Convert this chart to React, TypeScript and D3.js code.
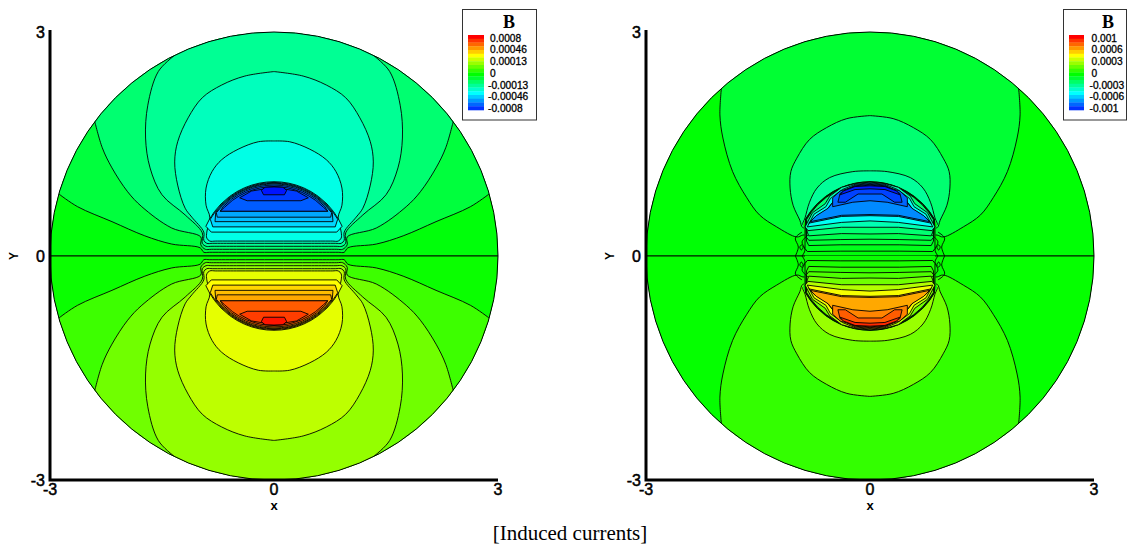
import React from "react";
import * as d3 from "d3";

type P = [number, number];
type C = { pts: P[]; t: number; tUp?: number; open?: boolean; ring?: number; noStroke?: boolean; noFill?: boolean; smooth?: boolean };

// half outline of the conductor (x <= 0, y >= 0), side to top
const diskOutline: P[] = [[-1,0],[-.995,.1],[-.98,.2],[-.954,.3],[-.917,.4],[-.866,.5],[-.8,.6],[-.714,.7],[-.6,.8],[-.5,.866],[-.4,.917],[-.3,.954],[-.2,.98],[-.1,.995],[0,1]];

// LEFT PANEL half contours (x <= 0); t = |B| on a -1..1 colour axis
const leftZero: P[] = [[-3,0],[0,0]];
const leftL1: P[] = [[-2.88,.83],[-2.63,.66],[-2.17,.46],[-1.73,.27],[-1.37,.16],[-.99,.11],[-.94,.05],[-.86,.05],[-.5,.05],[0,.05]];
const leftL2: P[] = [[-2.4,1.8],[-2.3,1.45],[-2.17,1.18],[-1.96,.86],[-1.77,.66],[-1.37,.375],[-.98,.255],[-.98,.15],[-.92,.09],[-.84,.09],[-.5,.09],[0,.09]];
const leftL3: P[] = [[-1.34,2.68],[-1.55,2.47],[-1.69,2.02],[-1.72,1.58],[-1.66,1.18],[-1.5,.82],[-1.19,.55],[-.96,.31],[-.96,.17],[-.91,.13],[-.83,.13],[-.5,.13],[0,.13]];
const leftL4: P[] = [[0,2.47],[-.39,2.41],[-.7,2.29],[-.96,2.12],[-1.15,1.85],[-1.29,1.53],[-1.33,1.26],[-1.29,.95],[-1.19,.64],[-1.1,.52],[-.94,.32],[-.94,.21],[-.9,.17],[-.82,.17],[-.5,.17],[0,.17]];
const leftL5: P[] = [[0,1.54],[-.21,1.53],[-.48,1.43],[-.7,1.29],[-.83,1.13],[-.91,.91],[-.91,.68],[-.86,.52],[-.9,.32],[-.9,.24],[-.86,.2],[-.78,.2],[-.5,.2],[0,.2]];
const leftH6: P[] = [[0,.32],[-.84,.32]];
const leftH7: P[] = [[0,.39],[-.82,.39]];
const leftH8: P[] = [[0,.46],[-.79,.46]];
const leftH9: P[] = [[0,.52],[-.76,.52]];
const leftH10: P[] = [[0,.6],[-.72,.6]];
const leftPolyA: P[] = [[0,.74],[-.36,.74],[-.46,.78],[-.3,.87],[0,.92]];
const leftPolyB: P[] = [[0,.82],[-.14,.82],[-.17,.88],[-.12,.92],[0,.925]];

const leftContours: C[] = [
  { pts: leftZero, t: .02, open: true },
  { pts: leftL1, t: .12, open: true, smooth: true },
  { pts: leftL2, t: .22, open: true, smooth: true },
  { pts: leftL3, t: .29, open: true, smooth: true },
  { pts: leftL4, t: .37, smooth: true },
  { pts: leftL5, t: .45, smooth: true },
  { pts: leftH6, t: .5, ring: .995 },
  { pts: leftH7, t: .58, ring: .985 },
  { pts: leftH8, t: .63, ring: .975 },
  { pts: leftH9, t: .67, ring: .965 },
  { pts: leftH10, t: .82, ring: .95 },
  { pts: leftH10, t: .82, ring: .93 },
  { pts: leftPolyA, t: .88 },
  { pts: leftPolyB, t: .96 },
];

// RIGHT PANEL half contours
const rightZero: P[] = [[-3,0],[0,0]];
const rightR1: P[] = [[-1.99,2.25],[-2.01,1.89],[-1.97,1.58],[-1.84,1.13],[-1.65,.78],[-1.48,.55],[-1.25,.39],[-.98,.255],[-.9,.28],[-.8,.28],[-.5,.28],[0,.28]];
const rightR2: P[] = [[0,1.88],[-.31,1.84],[-.58,1.72],[-.81,1.56],[-.98,1.31],[-1.06,1.13],[-1.07,.91],[-1.03,.68],[-.94,.48],[-.9,.38],[-.8,.38],[-.5,.38],[0,.38]];
const rightR3: P[] = [[0,1.14],[-.23,1.13],[-.54,1.05],[-.71,.91],[-.81,.72],[-.87,.51],[-.9,.42],[-.8,.42],[-.5,.42],[0,.42]];
const rightH0: P[] = [[0,0],[-.87,0],[-.88,.36],[-.9,.42],[-.866,.5],[-.8,.6],[-.714,.7],[-.6,.8],[-.5,.866],[-.4,.917],[-.3,.954],[-.2,.98],[-.1,.995],[0,1]];
const rightH1: P[] = [[0,.065],[-.4,.065],[-.84,.06],[-.87,.1],[-.87,.38]];
const rightH2: P[] = [[0,.15],[-.4,.15],[-.82,.14],[-.85,.2],[-.86,.38]];
const rightH3: P[] = [[0,.225],[-.4,.22],[-.82,.21],[-.85,.25],[-.85,.38]];
const rightH4: P[] = [[0,.295],[-.38,.3],[-.82,.27],[-.84,.32],[-.85,.39]];
const rightH5: P[] = [[0,.385],[-.38,.385],[-.83,.34],[-.87,.39],[-.77,.58],[-.6,.7],[-.54,.8],[-.38,.92],[-.2,.97],[0,.99]];
const rightH6: P[] = [[0,.47],[-.38,.45],[-.84,.39],[-.75,.56],[-.59,.66],[-.53,.77],[-.37,.89],[-.2,.96],[0,.98]];
const rightH7: P[] = [[0,.54],[-.38,.53],[-.82,.44],[-.74,.52],[-.58,.62],[-.5,.72],[-.47,.8],[-.36,.87],[-.2,.95],[0,.97]];
const rightH7b: P[] = [[0,.555],[-.38,.545],[-.8,.46],[-.72,.54],[-.56,.64],[-.48,.74],[-.45,.81],[-.35,.86],[-.2,.94],[0,.96]];
const rightPolyA: P[] = [[0,.74],[-.23,.72],[-.5,.66],[-.5,.78],[-.4,.87],[-.2,.93],[0,.95]];
const rightPolyB: P[] = [[0,.83],[-.16,.83],[-.33,.72],[-.43,.72],[-.4,.84],[-.2,.91],[0,.93]];
const rightPolyC: P[] = [[0,.9],[-.2,.89],[-.4,.82],[-.36,.87],[-.2,.93],[0,.94]];
const rightWiggle1: P[] = [[-1,0],[-.96,.12],[-1,.24],[-.91,.32]];
const rightWiggle2: P[] = [[-.91,0],[-.87,.08],[-.91,.19],[-.83,.28]];
const rightDot: P[] = [[-.92,.15],[-.895,.12],[-.92,.08],[-.94,.12],[-.92,.15]];

const rightContours: C[] = [
  { pts: rightZero, t: .01, open: true },
  { pts: rightR1, t: .1, open: true, smooth: true },
  { pts: rightR2, t: .22, smooth: true },
  { pts: rightR3, t: .3, smooth: true },
  { pts: rightH0, t: .02, noStroke: true },
  { pts: rightH1, t: .05, ring: .995 },
  { pts: rightH2, t: .1, ring: .99 },
  { pts: rightH3, t: .15, ring: .985 },
  { pts: rightH4, t: .22, ring: .98 },
  { pts: rightH5, t: .35 },
  { pts: rightH6, t: .48 },
  { pts: rightH7, t: .67, tUp: .73 },
  { pts: rightH7b, t: .67, tUp: .73 },
  { pts: rightPolyA, t: .74, tUp: .8 },
  { pts: rightPolyB, t: .82, tUp: .87 },
  { pts: rightPolyC, t: .92, tUp: .95 },
  { pts: rightWiggle1, t: 0, noFill: true, smooth: true },
  { pts: rightWiggle2, t: 0, noFill: true, smooth: true },
  { pts: rightDot, t: 0, noFill: true, smooth: true },
];

const leftLegendTicks = ["0.0008","0.00046","0.00013","0","-0.00013","-0.00046","-0.0008"];
const rightLegendTicks = ["0.001","0.0006","0.0003","0","-0.0003","-0.0006","-0.001"];
const legendBands = [1,.9,.8,.7,.6,.5,.4,.3,.2,.1,0,-.1,-.2,-.3,-.4,-.5,-.6,-.7,-.8,-.9];
const axisTicks = [-3,0,3];
const caption = "[Induced currents]";

const colour = d3.scaleLinear<string>()
  .domain([-1,-.5,0,.5,1])
  .range(["#0000ff","#00ffff","#00ff00","#ffff00","#ff0000"]);

const SANS = "'Liberation Sans', Arial, sans-serif";
const SERIF = "'Liberation Serif', 'Times New Roman', serif";

function halfPoints(c: C): P[] {
  if (!c.ring) return c.pts;
  const last = c.pts[c.pts.length - 1];
  const s = c.ring;
  const cap = diskOutline.map(([a, b]) => [a * s, b * s] as P).filter(p => p[1] > last[1] + .03);
  return [...c.pts, ...cap];
}

function Panel({ left, id, contours, legendX, legendW, ticks, barX, barW, labelX, bX }:
  { left: number; id: string; contours: C[]; legendX: number; legendW: number; ticks: string[]; barX: number; barW: number; labelX: number; bX: number }) {
  const x = d3.scaleLinear().domain([-3, 3]).range([left, left + 448]);
  const y = d3.scaleLinear().domain([-3, 3]).range([480, 32]);
  const straight = d3.line<P>().x(p => x(p[0])).y(p => y(p[1]));
  const curved = d3.line<P>().x(p => x(p[0])).y(p => y(p[1])).curve(d3.curveCatmullRom.alpha(.5));

  const paths = (sign: 1 | -1) => contours.map((c, i) => {
    const line = c.smooth ? curved : straight;
    const half = halfPoints(c).map(([a, b]) => [a, b * sign] as P);
    const mirror = [...half].reverse().slice(1).map(([a, b]) => [-a, b] as P);
    const whole = [...half, ...mirror];
    const d = line(whole) || "";
    if (c.noFill) {
      return (
        <g key={`${sign}-${i}`}>
          <path d={line(half) || ""} fill="none" stroke="#000" strokeWidth={.9} />
          <path d={line(half.map(([a, b]) => [-a, b] as P)) || ""} fill="none" stroke="#000" strokeWidth={.9} />
        </g>
      );
    }
    let fillD = d + "Z";
    if (c.open) {
      const h = half[0][1];
      const cap = straight([[0, 3.7 * sign], [-3.7, 3.7 * sign], [-3.7, h]]) || "";
      const end = (straight([[0, 0], [3.7, h], [3.7, 3.7 * sign]]) || "").replace(/^M[^L]*L/, "L");
      fillD = cap + d.replace(/^M/, "L") + end + "Z";
    }
    const value = sign === 1 ? -(c.tUp ?? c.t) : c.t;
    return (
      <g key={`${sign}-${i}`}>
        <path d={fillD} fill={colour(value)} stroke="none" />
        {!c.noStroke && <path d={d} fill="none" stroke="#000" strokeWidth={.9} />}
      </g>
    );
  });

  const legendY = d3.scaleLinear().domain([0, legendBands.length]).range([35, 110]);
  const tickY = d3.scaleLinear().domain([0, ticks.length - 1]).range([41.5, 112]);
  const tickStyle = { fontFamily: SANS, fontSize: 16, fill: "#000", stroke: "#000", strokeWidth: .5 };

  return (
    <g>
      <defs>
        <clipPath id={id}><circle cx={x(0)} cy={y(0)} r={224} /></clipPath>
      </defs>
      <g clipPath={`url(#${id})`}>
        <rect x={left} y={32} width={448} height={448} fill={colour(0)} />
        {paths(1)}
        {paths(-1)}
      </g>
      <circle cx={x(0)} cy={y(0)} r={224} fill="none" stroke="#000" strokeWidth={1} />
      <path d={`M${x(-3)},${y(3) - 2}V${y(-3)}H${x(3)}`} fill="none" stroke="#000" strokeWidth={3} />
      {axisTicks.map(v => (
        <text key={`x${v}`} x={x(v)} y={495} textAnchor="middle" style={tickStyle}>{v}</text>
      ))}
      {axisTicks.map(v => (
        <text key={`y${v}`} x={x(-3) - 5} y={y(v) + 6} textAnchor="end" style={tickStyle}>{v}</text>
      ))}
      <text x={x(0)} y={510} textAnchor="middle" style={{ fontFamily: SANS, fontSize: 13, fontWeight: 700 }}>x</text>
      <text transform={`translate(${x(-3) - 32},${y(0)}) rotate(-90)`} y={0} textAnchor="middle" style={{ fontFamily: SANS, fontSize: 12, fontWeight: 700 }}>Y</text>

      <rect x={legendX} y={9.5} width={legendW} height={110.5} fill="#fff" stroke="#333" strokeWidth={1} />
      <text x={bX} y={28} textAnchor="middle" style={{ fontFamily: SERIF, fontSize: 18, fontWeight: 700 }}>B</text>
      {legendBands.map((t, i) => (
        <rect key={i} x={barX} y={legendY(i)} width={barW} height={legendY(i + 1) - legendY(i) + .3} fill={colour(t)} />
      ))}
      {ticks.map((t, i) => (
        <text key={t} x={t.startsWith("-") ? labelX - 2 : labelX} y={tickY(i)}
          style={{ fontFamily: SANS, fontSize: 10.2, fill: "#000", stroke: "#000", strokeWidth: .3 }}>{t}</text>
      ))}
    </g>
  );
}

export default function App() {
  return (
    <svg width={1128} height={546} viewBox="0 0 1128 546" style={{ position: "absolute", left: 0, top: 0, background: "#fff" }}>
      <Panel left={50} id="clipL" contours={leftContours} legendX={462.5} legendW={74} ticks={leftLegendTicks} barX={468} barW={16} labelX={490} bX={509} />
      <Panel left={646} id="clipR" contours={rightContours} legendX={1063.5} legendW={63} ticks={rightLegendTicks} barX={1069} barW={15} labelX={1091.5} bX={1108} />
      <text x={570} y={540} textAnchor="middle" style={{ fontFamily: SERIF, fontSize: 21, fill: "#000" }}>{caption}</text>
    </svg>
  );
}
